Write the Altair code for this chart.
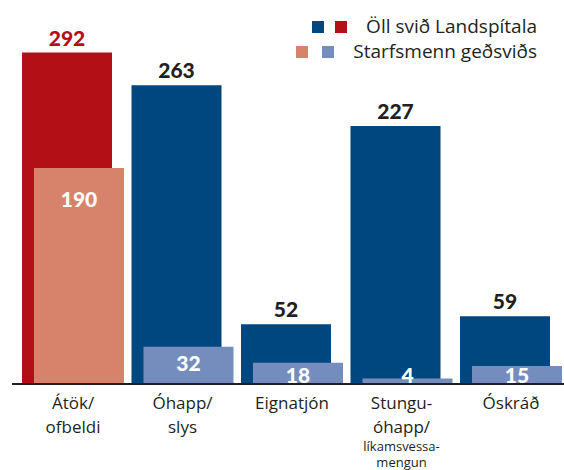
import altair as alt
import pandas as pd

categories = ["Átök/ofbeldi", "Óhapp/slys", "Eignatjón", "Stunguóhapp", "Óskráð"]
cat_lines = ["Átök/\nofbeldi", "Óhapp/\nslys", "Eignatjón", "Stungu-\nóhapp/", "Óskráð"]
cat_sub = ["", "", "", "líkamsvessa-\nmengun", ""]
all_values = [292, 263, 52, 227, 59]
psych_values = [190, 32, 18, 4, 15]
series_names = ["Öll svið Landspítala", "Starfsmenn geðsviðs"]

RED = "#b20f17"
BLUE = "#00477f"
SALMON = "#d7836b"
LIGHT = "#748dbd"
INK = "#231f20"
FONT = "Open Sans"
NUMFONT = "Lato"

df = pd.DataFrame({
    "cat": categories,
    "lines": cat_lines,
    "sub": cat_sub,
    "all": all_values,
    "psych": psych_values,
})

xscale = alt.Scale(domain=categories, paddingInner=0.178, paddingOuter=0.0913)
x = alt.X("cat:N", scale=xscale, axis=None, sort=categories)
yscale = alt.Scale(domain=[0, 338.4], nice=False, zero=True)

base = alt.Chart(df)

back = base.mark_bar().encode(
    x=x,
    y=alt.Y("all:Q", scale=yscale, axis=None),
    color=alt.Color("cat:N", scale=alt.Scale(domain=categories, range=[RED, BLUE, BLUE, BLUE, BLUE]), legend=None),
)

front = base.mark_bar(xOffset=12).encode(
    x=x,
    y=alt.Y("psych:Q", scale=yscale),
    color=alt.Color("cat:N", scale=alt.Scale(domain=categories, range=[SALMON, LIGHT, LIGHT, LIGHT, LIGHT]), legend=None),
)

back_labels = base.mark_text(
    font=NUMFONT, fontWeight=900, fontSize=21, baseline="bottom", dy=-3
).encode(
    x=x,
    y=alt.Y("all:Q", scale=yscale),
    text="all:Q",
    color=alt.Color("cat:N", scale=alt.Scale(domain=categories, range=[RED, INK, INK, INK, INK]), legend=None),
)

front_labels = base.transform_calculate(
    ly="datum.psych > 100 ? datum.psych - 29 : max(datum.psych - 16, 5.5)"
).mark_text(
    font=NUMFONT, fontWeight=900, fontSize=21, baseline="middle", dx=12, color="white"
).encode(
    x=x,
    y=alt.Y("ly:Q", scale=yscale),
    text="psych:Q",
)

axis_line = alt.Chart(pd.DataFrame({"a": [0]})).mark_rule(color=INK, strokeWidth=2).encode(
    x=alt.value(0), x2=alt.value(552), y=alt.value(384)
)

cat_text = base.mark_text(
    font=FONT, fontSize=17, lineBreak="\n", lineHeight=24, baseline="top", dy=13, dx=6, color=INK
).encode(
    x=x,
    y=alt.value(383),
    text="lines:N",
)

sub_text = base.mark_text(
    font=FONT, fontSize=13, lineBreak="\n", lineHeight=15.5, baseline="top", dy=58, dx=6, color=INK
).encode(
    x=x,
    y=alt.value(383),
    text="sub:N",
)

# legend
one = pd.DataFrame({"a": [0]})
def square(x0, y0, colr):
    return alt.Chart(one).mark_rect(color=colr).encode(
        x=alt.value(x0), x2=alt.value(x0 + 12), y=alt.value(y0), y2=alt.value(y0 + 12)
    )

leg_text1 = alt.Chart(pd.DataFrame({"t": [series_names[0]]})).mark_text(
    font=FONT, fontSize=19, align="right", baseline="middle", color=INK
).encode(x=alt.value(525), y=alt.value(27), text="t:N")
leg_text2 = alt.Chart(pd.DataFrame({"t": [series_names[1]]})).mark_text(
    font=FONT, fontSize=19, align="right", baseline="middle", color=INK
).encode(x=alt.value(525), y=alt.value(52), text="t:N")

chart = alt.layer(
    back, front, back_labels, front_labels, axis_line, cat_text, sub_text,
    square(300, 21, BLUE), square(323, 21, RED),
    square(284, 46, SALMON), square(310, 46, LIGHT),
    leg_text1, leg_text2,
).resolve_scale(
    color="independent"
).properties(
    width=548, height=383,
    padding={"left": 12, "top": 0, "right": 4, "bottom": 87},
    autosize=alt.AutoSizeParams(type="none"),
).configure_view(stroke=None)

chart.save("out.html", embed_options={"renderer": "svg", "actions": False})
